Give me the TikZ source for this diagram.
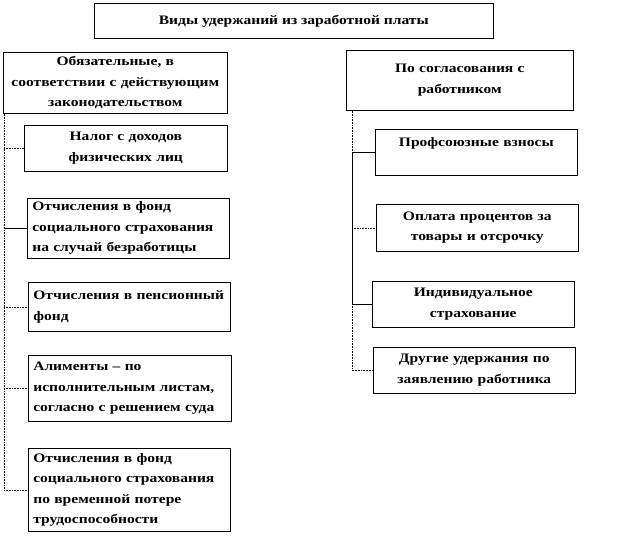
\documentclass[tikz,border=0pt]{standalone}
\usepackage{fontspec}
\setmainfont{Liberation Serif}[FakeStretch=1.2]
\usetikzlibrary{positioning}

\tikzset{
  vbox/.style={draw, line width=0.6pt, anchor=north west, inner xsep=8pt, inner ysep=2pt,
    font=\bfseries\fontsize{13}{20.5}\selectfont},
  link/.style={line width=0.6pt},
  dlink/.style={line width=0.6pt, densely dotted},
}

\begin{document}
\begin{tikzpicture}[x=1bp, y=-1bp]
\useasboundingbox (0,0) rectangle (624,537);
% title
\node[vbox, minimum width=399bp, minimum height=35bp, align=center] (title) at (94,3)
  {Виды удержаний из заработной платы};
% two groups
\node[vbox, minimum width=224bp, minimum height=61bp, text width=216bp, inner xsep=4pt, align=center] (oblig) at (3,52)
  {Обязательные, в\\ соответствии с действующим\\ законодательством};
\node[vbox, minimum width=227bp, minimum height=60bp, text width=211bp, align=center] (soglas) at (346,50)
  {По согласования с\\ работником};
% left column
\node[vbox, minimum width=203bp, minimum height=46bp, text width=187bp, align=center] (nalog) at (24,125)
  {Налог с доходов\\ физических лиц};
\node[vbox, minimum width=202bp, minimum height=60bp, text width=192bp, inner xsep=5pt, align=left] (bezrab) at (27,198)
  {Отчисления в фонд\\ социального страхования\\ на случай безработицы};
\node[vbox, minimum width=202bp, minimum height=49bp, text width=192bp, inner xsep=5pt, align=left] (pens) at (28,282)
  {Отчисления в пенсионный\\ фонд};
\node[vbox, minimum width=203bp, minimum height=66bp, text width=193bp, inner xsep=5pt, align=left] (alim) at (28,355)
  {Алименты – по\\ исполнительным листам,\\ согласно с решением суда};
\node[vbox, minimum width=202bp, minimum height=83bp, text width=192bp, inner xsep=5pt, align=left] (vremen) at (28,448)
  {Отчисления в фонд\\ социального страхования\\ по временной потере\\ трудоспособности};
% right column
\node[vbox, minimum width=202bp, minimum height=46bp, text width=186bp, align=center] (profs) at (375,129)
  {Профсоюзные взносы\\ \mbox{}};
\node[vbox, minimum width=202bp, minimum height=47bp, text width=186bp, align=center] (procent) at (376,204)
  {Оплата процентов за\\ товары и отсрочку};
\node[vbox, minimum width=202bp, minimum height=46bp, text width=186bp, align=center] (strah) at (372,281)
  {Индивидуальное\\ страхование};
\node[vbox, minimum width=202bp, minimum height=46bp, text width=186bp, align=center] (drug) at (373,347)
  {Другие удержания по\\ заявлению работника};

% left trunk
\coordinate (ltop) at ([xshift=1bp]oblig.south west);
\draw[dlink] (ltop) |- (vremen.west);
\draw[dlink] (ltop |- nalog.west) -- (nalog.west);
\draw[link] (ltop |- bezrab.west) -- (bezrab.west);
\draw[dlink] (ltop |- pens.west) -- (pens.west);
\draw[dlink] (ltop |- alim.west) -- (alim.west);
% right trunk
\coordinate (rtop) at ([xshift=6bp]soglas.south west);
\draw[dlink] (rtop) -- (rtop |- profs.west);
\draw[link] (rtop |- profs.west) -- (rtop |- strah.west);
\draw[dlink] (rtop |- strah.west) |- (drug.west);
\draw[link] (rtop |- profs.west) -- (profs.west);
\draw[dlink] (rtop |- procent.west) -- (procent.west);
\draw[link] (rtop |- strah.west) -- (strah.west);
\end{tikzpicture}
\end{document}
